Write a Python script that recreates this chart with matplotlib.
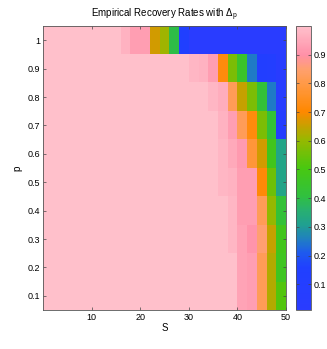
import numpy as np
import matplotlib
matplotlib.use("Agg")
import matplotlib.pyplot as plt
from matplotlib.colors import LinearSegmentedColormap

# Datos: S (columnas) y p (filas)
S = np.arange(2, 51, 2)
p = np.array([0.1, 0.2, 0.3, 0.4, 0.5, 0.6, 0.7, 0.8, 0.9, 1.0])

# Tasas de recuperación por fila (p = 0.1 ... 1.0), 25 columnas cada una
r01 = [1.0] * 20 + [0.94, 0.93, 0.82, 0.63, 0.52]
r02 = [1.0] * 20 + [0.94, 0.93, 0.82, 0.63, 0.47]
r03 = [1.0] * 19 + [0.98, 0.94, 0.91, 0.85, 0.65, 0.48]
r04 = [1.0] * 19 + [0.98, 0.93, 0.93, 0.82, 0.60, 0.42]
r05 = [1.0] * 18 + [0.98, 0.97, 0.93, 0.93, 0.71, 0.55, 0.32]
r06 = [1.0] * 18 + [0.98, 0.95, 0.92, 0.78, 0.66, 0.48, 0.32]
r07 = [1.0] * 18 + [0.97, 0.93, 0.82, 0.72, 0.57, 0.42, 0.08]
r08 = [1.0] * 17 + [0.98, 0.96, 0.82, 0.65, 0.57, 0.42, 0.25, 0.05]
r09 = [1.0] * 15 + [0.98, 0.97, 0.93, 0.72, 0.57, 0.45, 0.25, 0.12, 0.10, 0.03]
r10 = [1.0] * 8 + [0.97, 0.93, 0.93, 0.66, 0.61, 0.40, 0.15] + [0.02] * 10

tasas = np.array([r01, r02, r03, r04, r05, r06, r07, r08, r09, r10])

# Mapa de colores personalizado
colores = [
    (0.00, "#2a3cff"),
    (0.15, "#2040ff"),
    (0.20, "#1e5aee"),
    (0.25, "#2080c0"),
    (0.30, "#20a090"),
    (0.35, "#28b070"),
    (0.40, "#30c040"),
    (0.50, "#48c810"),
    (0.60, "#98b800"),
    (0.65, "#c8a000"),
    (0.70, "#ff8800"),
    (0.80, "#ff9a48"),
    (0.85, "#ffa070"),
    (0.90, "#ff90a8"),
    (1.00, "#ffc0cb"),
]
cmap = LinearSegmentedColormap.from_list("recovery", colores)

plt.rcParams["font.family"] = ["Liberation Sans", "DejaVu Sans"]
plt.rcParams["mathtext.fontset"] = "custom"
plt.rcParams["mathtext.rm"] = "Liberation Sans"
plt.rcParams["mathtext.it"] = "Liberation Sans"

fig = plt.figure(figsize=(3.27, 3.49), dpi=100)
ax = fig.add_axes([0.1315, 0.1117, 0.743, 0.8138])
cax = fig.add_axes([0.905, 0.1117, 0.046, 0.8138])

extent = [S[0] - 2, S[-1], p[0] - 0.05, p[-1] + 0.05]
im = ax.imshow(tasas, cmap=cmap, vmin=0.01, vmax=1.0, origin="lower",
               extent=extent, aspect="auto", interpolation="nearest")

ax.set_xticks([10, 20, 30, 40, 50])
ax.set_yticks(p)
ax.set_yticklabels([f"{v:g}" for v in p])
ax.tick_params(direction="in", top=True, right=True, labelsize=6.5,
               length=2.5, width=0.5, color="#444444", pad=2)
for s in ax.spines.values():
    s.set_linewidth(0.6)
    s.set_color("#555555")

ax.set_title(r"Empirical Recovery Rates with $\Delta_\mathrm{p}$", fontsize=7, pad=6)
ax.set_xlabel("S", fontsize=7, labelpad=1)
ax.set_ylabel("p", fontsize=7, labelpad=4)

cb = fig.colorbar(im, cax=cax)
cb.set_ticks([0.1, 0.2, 0.3, 0.4, 0.5, 0.6, 0.7, 0.8, 0.9])
cb.ax.tick_params(direction="in", left=True, right=True, labelsize=6.5,
                  length=2.5, width=0.5, color="#444444", pad=2)
cb.outline.set_linewidth(0.6)
cb.outline.set_edgecolor("#555555")

fig.savefig("out.png", dpi=100)
plt.close(fig)
